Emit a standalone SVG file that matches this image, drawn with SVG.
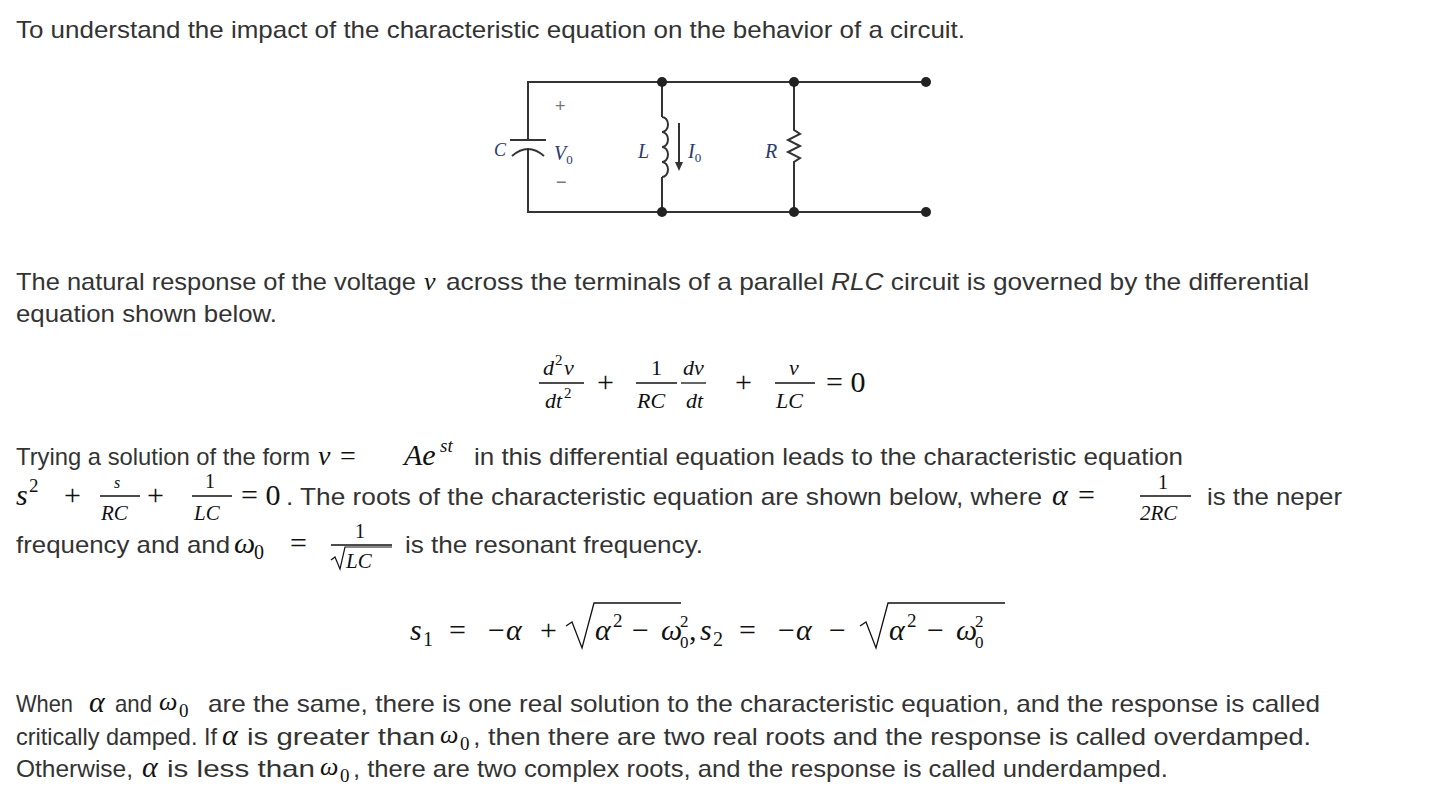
<svg xmlns="http://www.w3.org/2000/svg" width="1432" height="812" viewBox="0 0 1432 812">
<style>
.t{font-family:"Liberation Sans",Arial,sans-serif;font-size:24px;fill:#333}
.m{font-family:"Liberation Serif","Times New Roman",serif;font-size:30px;fill:#111}
.i{font-style:italic}
.f{font-size:22px}
.b{stroke:#111;stroke-width:1.3}
.w{stroke:#333;stroke-width:2;fill:none}
.c{font-family:"Liberation Serif",serif;font-style:italic;font-size:20px;fill:#2b3a6a}
</style>
<rect width="1432" height="812" fill="#fff"/>
<text class="t" x="16" y="38" textLength="949" lengthAdjust="spacingAndGlyphs">To understand the impact of the characteristic equation on the behavior of a circuit.</text>
<g id="circuit">
<path class="w" d="M528 140V82H926M528 148V212H926M510 140H546M512 156Q528 142 544 156M662 82V117M662 177V212M794 82V130L800 134L788 140L800 146L788 152L800 158L794 162V212"/>
<path class="w" d="M662 117a6 7.5 0 0 1 0 15a6 7.5 0 0 1 0 15a6 7.5 0 0 1 0 15a6 7.5 0 0 1 0 15"/>
<path class="w" d="M679 123V167" stroke-width="1.5"/><path d="M675 162L679 171L683 162Z" fill="#333"/>
<circle cx="662" cy="82" r="5" fill="#222"/><circle cx="794" cy="82" r="5" fill="#222"/><circle cx="926" cy="82" r="5" fill="#222"/>
<circle cx="662" cy="212" r="5" fill="#222"/><circle cx="794" cy="212" r="5" fill="#222"/><circle cx="926" cy="212" r="5" fill="#222"/>
<text class="c" x="494" y="156" style="font-size:18px">C</text>
<text class="c" x="554" y="160">V<tspan font-size="13" font-style="normal" dy="4">0</tspan></text>
<text x="555" y="112" font-family="Liberation Sans" font-size="18" fill="#777">+</text>
<text x="556" y="188" font-family="Liberation Sans" font-size="18" fill="#777">−</text>
<text class="c" x="638" y="158">L</text>
<text class="c" x="688" y="158">I<tspan font-size="13" font-style="normal" dy="4">0</tspan></text>
<text class="c" x="765" y="158">R</text>
</g>
<text class="t" x="16" y="290" textLength="400" lengthAdjust="spacingAndGlyphs">The natural response of the voltage</text>
<text class="m i" x="424" y="290" style="font-size:26px">v</text>
<text class="t" x="446" y="290" textLength="863" lengthAdjust="spacingAndGlyphs">across the terminals of a parallel <tspan font-style="italic">RLC</tspan> circuit is governed by the differential</text>
<text class="t" x="16" y="322" textLength="261" lengthAdjust="spacingAndGlyphs">equation shown below.</text>
<g>
<text class="m i f" x="543" y="375">d</text><text class="m" x="555" y="365" style="font-size:15px">2</text><text class="m i f" x="564" y="375">v</text>
<line class="b" x1="539" y1="383" x2="584" y2="383"/>
<text class="m i f" x="545" y="408">dt</text><text class="m" x="564" y="398" style="font-size:15px">2</text>
<text class="m" x="597" y="392">+</text>
<text class="m f" x="651" y="375">1</text>
<line class="b" x1="636" y1="383" x2="677" y2="383"/>
<text class="m i f" x="637" y="408">RC</text>
<text class="m i f" x="683" y="375">dv</text>
<line class="b" x1="681" y1="383" x2="706" y2="383"/>
<text class="m i f" x="686" y="408">dt</text>
<text class="m" x="735" y="392">+</text>
<text class="m i f" x="789" y="375">v</text>
<line class="b" x1="775" y1="383" x2="815" y2="383"/>
<text class="m i f" x="776" y="408">LC</text>
<text class="m" x="826" y="392">= 0</text>
</g>
<text class="t" x="16" y="465" textLength="294" lengthAdjust="spacingAndGlyphs">Trying a solution of the form</text>
<text class="m i" x="318" y="465" style="font-size:28px">v</text><text class="m" x="340" y="465" style="font-size:28px">=</text>
<text class="m i" x="404" y="465">Ae</text><text class="m i" x="440" y="452" style="font-size:19px">st</text>
<text class="t" x="474" y="465" textLength="709" lengthAdjust="spacingAndGlyphs">in this differential equation leads to the characteristic equation</text>
<text class="m i" x="16" y="505">s</text><text class="m" x="29" y="492" style="font-size:19px">2</text><text class="m" x="64" y="505">+</text>
<text class="m i" x="114" y="488" style="font-size:16px">s</text>
<line class="b" x1="100" y1="496" x2="140" y2="496"/>
<text class="m i" x="101" y="520" style="font-size:21px">RC</text>
<text class="m" x="147" y="505">+</text>
<text class="m" x="205" y="488" style="font-size:20px">1</text>
<line class="b" x1="192" y1="496" x2="232" y2="496"/>
<text class="m i" x="194" y="520" style="font-size:21px">LC</text>
<text class="m" x="241" y="505">= 0</text>
<text class="t" x="286" y="505" textLength="756" lengthAdjust="spacingAndGlyphs">. The roots of the characteristic equation are shown below, where</text>
<text class="m i" x="1052" y="505">α</text><text class="m" x="1078" y="505">=</text>
<text class="m" x="1158" y="489" style="font-size:20px">1</text>
<line class="b" x1="1140" y1="496" x2="1191" y2="496"/>
<text class="m i" x="1140" y="520" style="font-size:21px">2RC</text>
<text class="t" x="1207" y="505" textLength="135" lengthAdjust="spacingAndGlyphs">is the neper</text>
<text class="t" x="16" y="553" textLength="214" lengthAdjust="spacingAndGlyphs">frequency and and</text>
<text class="m i" x="234" y="553">ω</text><text class="m" x="254" y="559" style="font-size:20px">0</text><text class="m" x="290" y="553">=</text>
<text class="m" x="355" y="538" style="font-size:20px">1</text>
<line class="b" x1="331" y1="545" x2="392" y2="545"/>
<path d="M331 560l4 -3l5 12l5 -22h47" stroke="#111" stroke-width="1.2" fill="none"/>
<text class="m i" x="346" y="568" style="font-size:21px">LC</text>
<text class="t" x="405" y="553" textLength="298" lengthAdjust="spacingAndGlyphs">is the resonant frequency.</text>
<g>
<text class="m i" x="410" y="640">s</text><text class="m" x="423" y="646" style="font-size:20px">1</text>
<text class="m" x="449" y="640">=</text>
<text class="m" x="488" y="640">−</text><text class="m i" x="506" y="640">α</text>
<text class="m" x="540" y="640">+</text>
<path d="M566 626l6 -4l10 26l12 -45h87" stroke="#111" stroke-width="1.3" fill="none"/>
<text class="m i" x="595" y="640">α</text><text class="m" x="613" y="627" style="font-size:19px">2</text>
<text class="m" x="632" y="640">−</text>
<text class="m i" x="661" y="640">ω</text><text class="m" x="680" y="627" style="font-size:17px">2</text><text class="m" x="680" y="648" style="font-size:17px">0</text>
<text class="m" x="689" y="640">,</text>
<text class="m i" x="700" y="640">s</text><text class="m" x="713" y="646" style="font-size:20px">2</text>
<text class="m" x="739" y="640">=</text>
<text class="m" x="778" y="640">−</text><text class="m i" x="796" y="640">α</text>
<text class="m" x="829" y="640">−</text>
<path d="M860 626l6 -4l10 26l12 -45h117" stroke="#111" stroke-width="1.3" fill="none"/>
<text class="m i" x="889" y="640">α</text><text class="m" x="907" y="627" style="font-size:19px">2</text>
<text class="m" x="927" y="640">−</text>
<text class="m i" x="956" y="640">ω</text><text class="m" x="975" y="627" style="font-size:17px">2</text><text class="m" x="975" y="648" style="font-size:17px">0</text>
</g>
<g>
<text class="t" x="16" y="712" textLength="57" lengthAdjust="spacingAndGlyphs">When</text>
<text class="m i" x="89" y="712">α</text>
<text class="t" x="115" y="712" textLength="37" lengthAdjust="spacingAndGlyphs">and</text>
<text class="m i" x="159" y="710" style="font-size:26px">ω</text><text class="m" x="179" y="717" style="font-size:19px">0</text>
<text class="t" x="208" y="712" textLength="1112" lengthAdjust="spacingAndGlyphs">are the same, there is one real solution to the characteristic equation, and the response is called</text>
<text class="t" x="16" y="745" textLength="201" lengthAdjust="spacingAndGlyphs">critically damped. If</text>
<text class="m i" x="222" y="745">α</text>
<text class="t" x="247" y="745" textLength="188" lengthAdjust="spacingAndGlyphs">is greater than</text>
<text class="m i" x="440" y="743" style="font-size:26px">ω</text><text class="m" x="460" y="750" style="font-size:19px">0</text>
<text class="t" x="473" y="745" textLength="838" lengthAdjust="spacingAndGlyphs">, then there are two real roots and the response is called overdamped.</text>
<text class="t" x="16" y="777" textLength="117" lengthAdjust="spacingAndGlyphs">Otherwise,</text>
<text class="m i" x="142" y="777">α</text>
<text class="t" x="167" y="777" textLength="148" lengthAdjust="spacingAndGlyphs">is less than</text>
<text class="m i" x="320" y="775" style="font-size:26px">ω</text><text class="m" x="340" y="782" style="font-size:19px">0</text>
<text class="t" x="353" y="777" textLength="815" lengthAdjust="spacingAndGlyphs">, there are two complex roots, and the response is called underdamped.</text>
</g>
</svg>
